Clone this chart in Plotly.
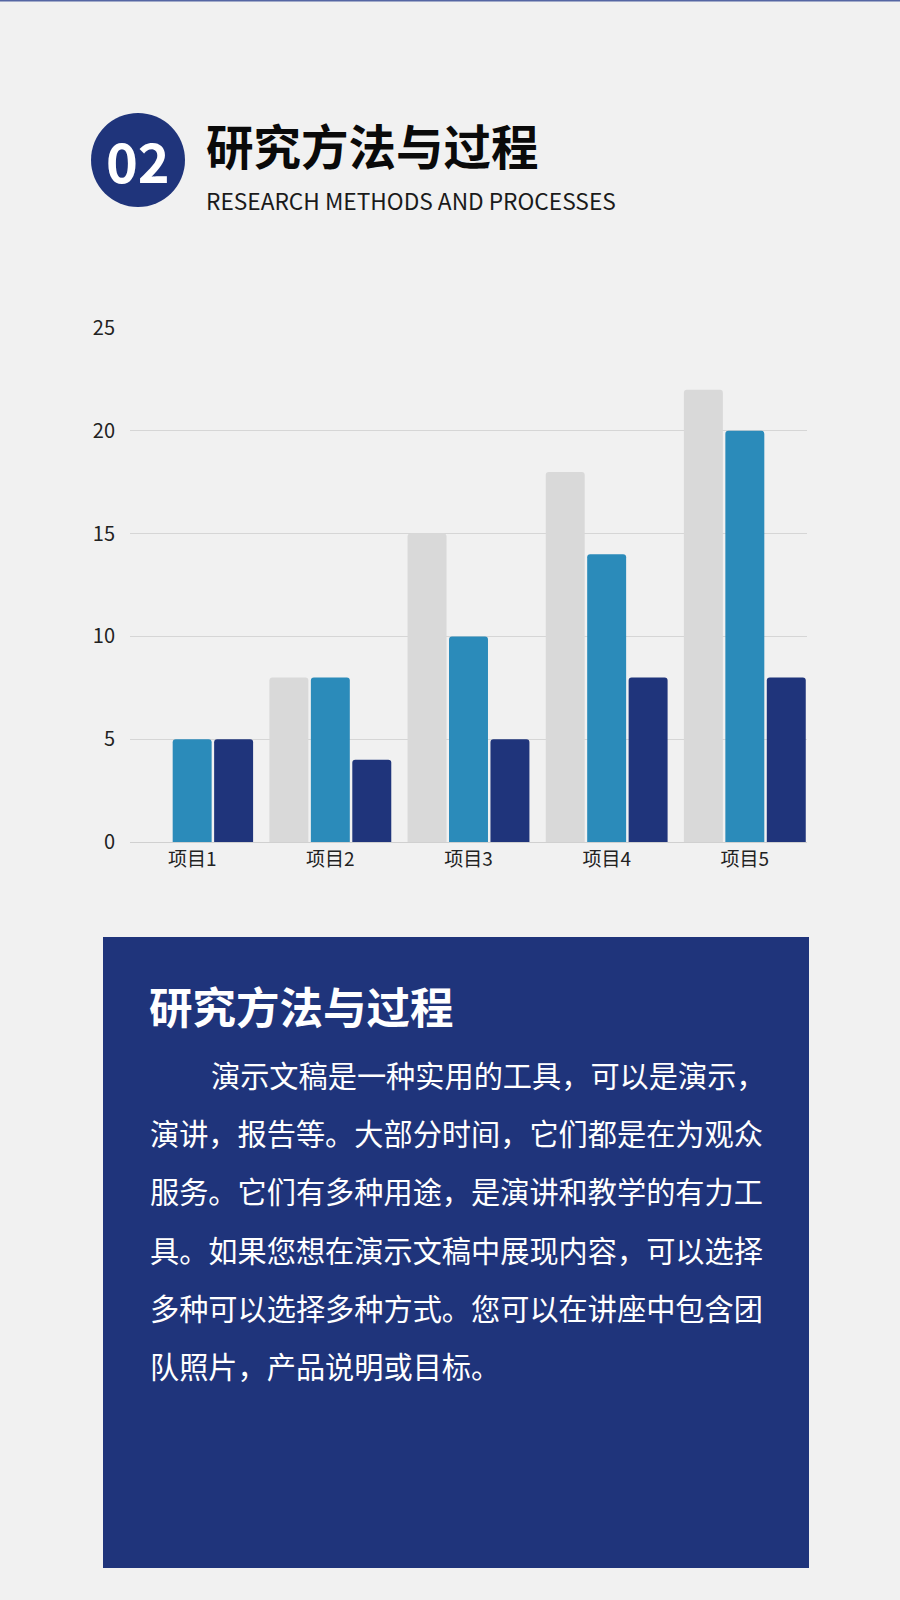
import plotly.graph_objects as go

# chart data
projects = ["项目1", "项目2", "项目3", "项目4", "项目5"]
series_a = [0, 8, 15, 18, 22]    # light grey
series_b = [5, 8, 10, 14, 20]    # mid blue
series_c = [5, 4, 5, 8, 8]       # navy
y_ticks = [0, 5, 10, 15, 20, 25]

title_cn = "研究方法与过程"
title_en = "RESEARCH METHODS AND PROCESSES"
badge = "02"
body_lines = [
    "演示文稿是一种实用的工具，可以是演示，",
    "演讲，报告等。大部分时间，它们都是在为观众",
    "服务。它们有多种用途，是演讲和教学的有力工",
    "具。如果您想在演示文稿中展现内容，可以选择",
    "多种可以选择多种方式。您可以在讲座中包含团",
    "队照片，产品说明或目标。",
]

W, H = 900, 1600
NAVY = "#1f347b"
FONT = "Noto Sans CJK SC"


def px(x):
    return x / W


def py(y):
    return 1 - y / H


fig = go.Figure()
for vals, col in [(series_a, "#d9d9d9"), (series_b, "#2b8bba"), (series_c, NAVY)]:
    fig.add_trace(go.Bar(x=projects, y=vals, marker=dict(color=col, cornerradius=3, line_width=0),
                         showlegend=False))

shapes = [
    # thin line at the very top
    dict(type="rect", xref="paper", yref="paper", x0=0, x1=1, y0=py(1.5), y1=1,
         fillcolor="#5566a3", line_width=0),
    # badge circle
    dict(type="circle", xref="paper", yref="paper", x0=px(91), x1=px(185), y0=py(207), y1=py(113),
         fillcolor=NAVY, line_width=0),
    # text box
    dict(type="rect", xref="paper", yref="paper", x0=px(103), x1=px(809), y0=py(1568), y1=py(937),
         fillcolor=NAVY, line_width=0, layer="below"),
]


def label(text, x, y, size, color, xanchor="left"):
    return dict(text=text, x=px(x), y=py(y), xref="paper", yref="paper",
                xanchor=xanchor, yanchor="middle", showarrow=False,
                font=dict(family=FONT, size=size, color=color))


annotations = [
    label("<b>" + badge + "</b>", 138, 160, 54, "white", xanchor="center"),
    label("<b>" + title_cn + "</b>", 204, 145, 47.5, "#0a0a0a"),
    label(title_en, 204, 200, 22.7, "#1a1a1a"),
    label("<b>" + title_cn + "</b>", 147, 1005, 43.5, "white"),
]
for i, line in enumerate(body_lines):
    annotations.append(label(line, 209 if i == 0 else 148, 1074 + i * 58.2, 29.2, "white"))

fig.update_layout(
    width=W, height=H, autosize=False,
    margin=dict(l=0, r=0, t=0, b=0, autoexpand=False),
    paper_bgcolor="#f1f1f1", plot_bgcolor="#f1f1f1",
    barmode="group", bargap=0.1, bargroupgap=0.06,
    shapes=shapes, annotations=annotations,
    font=dict(family=FONT, color="#222"),
    xaxis=dict(domain=[px(130), px(807)], range=[-0.45, 4.45], showgrid=False, automargin=False,
               showline=True, linecolor="#d0d0d0", linewidth=1, ticks="",
               tickfont=dict(size=19, color="#222"), fixedrange=True),
    yaxis=dict(domain=[py(842), py(328)], range=[0, 25], tickvals=y_ticks, automargin=False,
               showgrid=True, gridcolor="#d6d6d6", gridwidth=1, zeroline=False,
               ticks="", ticklabelstandoff=14,
               tickfont=dict(size=20, color="#222"), fixedrange=True),
)

fig.write_html(
    "out.html",
    config={"displayModeBar": False},
    post_script="document.body.style.margin='0';document.documentElement.style.overflow='hidden';",
)
